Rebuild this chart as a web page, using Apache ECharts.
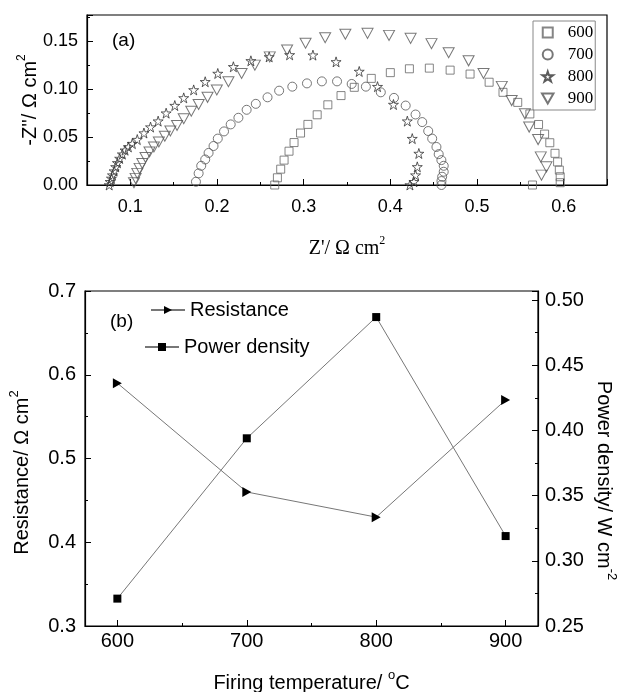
<!DOCTYPE html>
<html>
<head>
<meta charset="utf-8">
<script src="https://cdn.jsdelivr.net/npm/echarts@6/dist/echarts.min.js"></script>
<style>html,body{margin:0;padding:0;background:#fff}#c{width:617px;height:692px}</style>
</head>
<body>
<div id="c"></div>
<script>
// ---- Panel (a): impedance spectra, [Z', -Z''] pairs ----
const z600 = [[0.2666,0.000],[0.2697,0.0075],[0.2735,0.0165],[0.2774,0.0259],[0.2831,0.0352],[0.2889,0.0442],[0.2964,0.0541],[0.3049,0.0631],[0.3156,0.0731],[0.3279,0.0835],[0.3431,0.0931],[0.3584,0.1017],[0.378,0.111],[0.400,0.117],[0.422,0.121],[0.445,0.1217],[0.469,0.1196],[0.492,0.1155],[0.514,0.107],[0.530,0.0965],[0.547,0.086],[0.561,0.074],[0.571,0.063],[0.578,0.053],[0.584,0.044],[0.590,0.033],[0.593,0.024],[0.595,0.0155],[0.596,0.0086],[0.596,0.0024],[0.564,0.000]];
const z700 = [[0.1757,0.0034],[0.1788,0.0121],[0.1818,0.0200],[0.1864,0.0266],[0.1903,0.0334],[0.1960,0.0406],[0.2009,0.0483],[0.2081,0.0558],[0.2158,0.0631],[0.2247,0.0700],[0.2342,0.0783],[0.2448,0.0845],[0.2583,0.0913],[0.2717,0.0982],[0.2869,0.1024],[0.3038,0.1058],[0.3210,0.1079],[0.3385,0.1079],[0.3554,0.1052],[0.3718,0.1024],[0.3890,0.0965],[0.4042,0.0907],[0.4177,0.0827],[0.4291,0.0734],[0.4368,0.0655],[0.4437,0.0562],[0.4483,0.0483],[0.4532,0.0396],[0.4558,0.0321],[0.4589,0.0259],[0.4616,0.0200],[0.4616,0.0138],[0.4598,0.0086],[0.4590,0.0041],[0.4590,0.000]];
const z800 = [[0.0756,0.000],[0.0767,0.0034],[0.0782,0.0069],[0.0794,0.0103],[0.0813,0.0145],[0.0831,0.0189],[0.0851,0.0231],[0.0877,0.0276],[0.0908,0.0321],[0.0939,0.0362],[0.0977,0.0396],[0.1023,0.0431],[0.1080,0.0473],[0.1157,0.0541],[0.1233,0.0603],[0.1321,0.0665],[0.1413,0.0748],[0.1513,0.0827],[0.1616,0.0907],[0.1731,0.0990],[0.1864,0.1075],[0.2009,0.1161],[0.2189,0.1231],[0.2391,0.1293],[0.2602,0.1334],[0.2838,0.1355],[0.3107,0.1352],[0.3374,0.1282],[0.3641,0.1182],[0.3852,0.1024],[0.4036,0.0838],[0.4196,0.0665],[0.4253,0.0483],[0.4329,0.0328],[0.4311,0.0189],[0.4291,0.0103],[0.4272,0.0034],[0.4226,0.000]];
const z900 = [[0.1042,0.0024],[0.1061,0.0069],[0.1080,0.0121],[0.1107,0.0173],[0.1138,0.0224],[0.1175,0.0286],[0.1221,0.0344],[0.1272,0.0396],[0.1329,0.0448],[0.1398,0.0507],[0.1462,0.0562],[0.1539,0.0620],[0.1616,0.0690],[0.1703,0.0768],[0.1788,0.0838],[0.1891,0.0913],[0.1998,0.0990],[0.2132,0.1075],[0.2284,0.1161],[0.2437,0.1248],[0.2609,0.1334],[0.2809,0.1406],[0.3022,0.1476],[0.3248,0.1534],[0.3481,0.1569],[0.3737,0.1579],[0.3985,0.1558],[0.4234,0.1527],[0.4475,0.1472],[0.4673,0.1378],[0.4903,0.1293],[0.5075,0.1161],[0.5286,0.1027],[0.5400,0.0879],[0.5553,0.0741],[0.5602,0.0603],[0.5705,0.0473],[0.5736,0.0293],[0.5801,0.0189],[0.5744,0.0103]];
const seriesNamesA = ['600','700','800','900'];

// ---- Panel (b) ----
const firingTemps = [600, 700, 800, 900];
const resistance = [0.59, 0.46, 0.43, 0.57];
const powerDensity = [0.271, 0.394, 0.487, 0.319];

const STAR = 'path://M50,0 L61.2,34.5 L97.6,34.5 L68.2,55.9 L79.4,90.5 L50,69.1 L20.6,90.5 L31.8,55.9 L2.4,34.5 L38.8,34.5 Z';
const TRI_DOWN = 'path://M0,0 L10,0 L5,8.7 Z';
const TRI_RIGHT = 'path://M0,0 L8.7,5 L0,10 Z';
const SQUARE = 'path://M0,0 L10,0 L10,10 L0,10 Z';
const SANS = 'Liberation Sans, Arial, sans-serif';
const SERIF = 'Liberation Serif, Times New Roman, serif';

const hollow = (c) => ({color: 'rgba(0,0,0,0)', borderColor: c, borderWidth: 1});
const richName = (fam, size, supSize) => ({
  n: {fontFamily: fam, fontSize: size, color: '#000', verticalAlign: 'bottom', lineHeight: size + 4},
  s: {fontFamily: fam, fontSize: supSize, color: '#000', verticalAlign: 'top', lineHeight: supSize}
});

const chart = echarts.init(document.getElementById('c'), null, {renderer: 'canvas'});

const axisCommon = {
  nameMoveOverlap: false,
  axisLine: {lineStyle: {color: '#000', width: 1.2}},
  axisTick: {inside: true, length: 6, lineStyle: {color: '#000'}},
  minorTick: {show: true, splitNumber: 2, length: 3, lineStyle: {color: '#000'}},
  splitLine: {show: false}
};

chart.setOption({
  animation: false,
  backgroundColor: '#fff',
  grid: [
    {left: 87, top: 15, width: 520, height: 170, show: true, borderColor: '#000', borderWidth: 1.2, backgroundColor: 'transparent', outerBoundsMode: 'none', containLabel: false},
    {left: 85, top: 291, width: 453, height: 335, show: true, borderColor: '#000', borderWidth: 1.2, backgroundColor: 'transparent', outerBoundsMode: 'none', containLabel: false}
  ],
  legend: [
    {
      data: seriesNamesA.map(n => ({name: n})),
      orient: 'vertical', left: 533, top: 21,
      padding: [3, 2, 3, 8], itemGap: 5, itemWidth: 30, itemHeight: 10, symbolKeepAspect: true,
      borderColor: '#888', borderWidth: 1,
      textStyle: {fontFamily: SERIF, fontSize: 17, lineHeight: 17, color: '#000'}
    },
    {
      data: ['Resistance'], left: 150, top: 300, itemWidth: 34, itemHeight: 10, padding: 0,
      textStyle: {fontFamily: SANS, fontSize: 20, color: '#000'}
    },
    {
      data: ['Power density'], left: 144, top: 337, itemWidth: 34, itemHeight: 10, padding: 0,
      textStyle: {fontFamily: SANS, fontSize: 20, color: '#000'}
    }
  ],
  xAxis: [
    Object.assign({
      gridIndex: 0, type: 'value', min: 0.05, max: 0.65, splitNumber: 6,
      name: "{n|Z'/ Ω cm}{s|2}", nameLocation: 'middle', nameGap: 50,
      nameTextStyle: {rich: richName(SERIF, 20, 12)},
      axisLabel: {fontFamily: SANS, fontSize: 18, color: '#000', margin: 13,
        formatter: v => (Math.abs(v*10 - Math.round(v*10)) < 1e-6 ? v.toFixed(1) : '')}
    }, axisCommon),
    Object.assign({
      gridIndex: 1, type: 'value', min: 575, max: 925, splitNumber: 3,
      name: '{n|Firing temperature/ }{s|o}{n|C}', nameLocation: 'middle', nameGap: 43,
      nameTextStyle: {rich: richName(SANS, 20, 13)},
      axisLabel: {fontFamily: SANS, fontSize: 20, color: '#000', margin: 5,
        formatter: v => (v % 100 === 0 ? String(v) : '')}
    }, axisCommon)
  ],
  yAxis: [
    Object.assign({
      gridIndex: 0, type: 'value', min: 0, max: 0.177, interval: 0.05,
      name: "{n|-Z''/ Ω cm}{s|2}", nameLocation: 'middle', nameGap: 47, nameRotate: 90,
      nameTextStyle: {rich: richName(SANS, 20, 12)},
      axisLabel: {fontFamily: SANS, fontSize: 18, color: '#000', margin: 9, showMaxLabel: false,
        formatter: v => v.toFixed(2)}
    }, axisCommon),
    Object.assign({
      gridIndex: 1, type: 'value', min: 0.3, max: 0.7, interval: 0.1, position: 'left',
      name: '{n|Resistance/ Ω cm}{s|2}', nameLocation: 'middle', nameGap: 53, nameRotate: 90,
      nameTextStyle: {rich: richName(SANS, 20, 13), padding: [0, 28, 0, 0]},
      axisLabel: {fontFamily: SANS, fontSize: 20, color: '#000', margin: 9, formatter: v => v.toFixed(1)}
    }, axisCommon),
    Object.assign({
      gridIndex: 1, type: 'value', min: 0.25, max: 0.507, interval: 0.05, position: 'right',
      name: '{n|Power density/ W cm}{s|-2}', nameLocation: 'middle', nameGap: 56, nameRotate: -90,
      nameTextStyle: {rich: richName(SANS, 20, 13), padding: [0, 0, 0, 44]},
      axisLabel: {fontFamily: SANS, fontSize: 20, color: '#000', margin: 7, showMaxLabel: false, formatter: v => v.toFixed(2)}
    }, axisCommon)
  ],
  graphic: [
    {type: 'text', left: 112, top: 31, style: {text: '(a)', font: '19px ' + SANS, fill: '#000'}},
    {type: 'text', left: 110, top: 312, style: {text: '(b)', font: '19px ' + SANS, fill: '#000'}}
  ],
  series: [
    {name: '600', type: 'scatter', xAxisIndex: 0, yAxisIndex: 0, data: z600, symbol: SQUARE, symbolSize: 8, itemStyle: hollow('#666')},
    {name: '700', type: 'scatter', xAxisIndex: 0, yAxisIndex: 0, data: z700, symbol: 'circle', symbolSize: 9, itemStyle: hollow('#555')},
    {name: '800', type: 'scatter', xAxisIndex: 0, yAxisIndex: 0, data: z800, symbol: STAR, symbolSize: 10, itemStyle: hollow('#333')},
    {name: '900', type: 'scatter', xAxisIndex: 0, yAxisIndex: 0, data: z900, symbol: TRI_DOWN, symbolSize: [11, 10], itemStyle: hollow('#555')},
    {name: 'Resistance', type: 'line', xAxisIndex: 1, yAxisIndex: 1,
      data: firingTemps.map((t, i) => [t, resistance[i]]),
      symbol: TRI_RIGHT, symbolSize: [9, 10], showAllSymbol: true,
      lineStyle: {color: '#777', width: 1}, itemStyle: {color: '#000'}},
    {name: 'Power density', type: 'line', xAxisIndex: 1, yAxisIndex: 2,
      data: firingTemps.map((t, i) => [t, powerDensity[i]]),
      symbol: 'rect', symbolSize: 8, showAllSymbol: true,
      lineStyle: {color: '#777', width: 1}, itemStyle: {color: '#000'}}
  ]
});
</script>
</body>
</html>
